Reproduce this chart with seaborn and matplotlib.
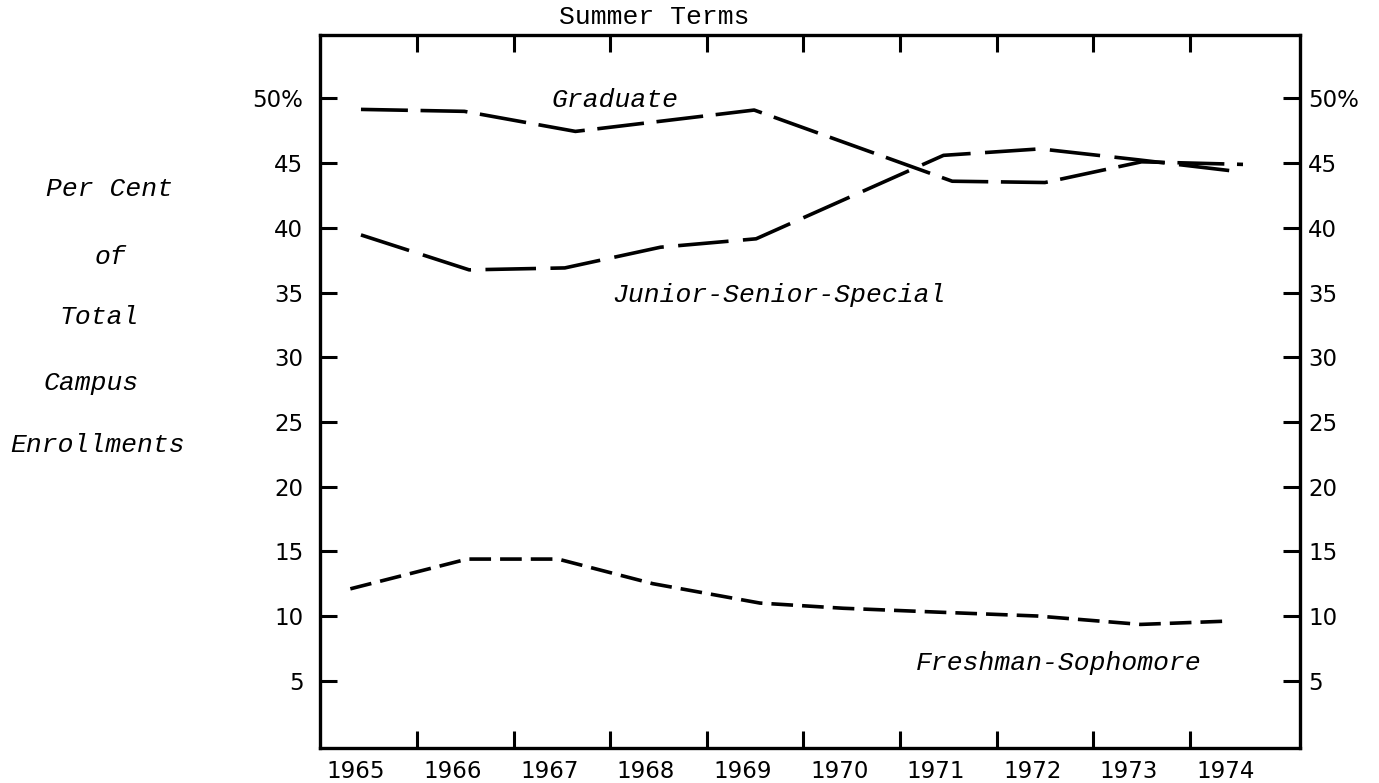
import pandas as pd
import matplotlib
matplotlib.use('Agg')
import matplotlib.pyplot as plt
import seaborn as sns

# Years (categories) and series.
# x positions are in "year slot" units: 0 = 1965 ... 9 = 1974
years = ['1965', '1966', '1967', '1968', '1969', '1970', '1971', '1972', '1973', '1974']

grad_x = [-0.08, 0.99, 2.14, 3.99, 6.04, 7.0, 8.0, 9.05]
grad_y = [49.15, 49.0, 47.45, 49.1, 43.6, 43.5, 45.1, 44.9]

jss_x = [-0.08, 1.04, 2.03, 3.02, 4.01, 5.95, 6.95, 7.97, 9.05]
jss_y = [39.45, 36.75, 36.9, 38.5, 39.15, 45.6, 46.1, 45.25, 44.3]

fresh_x = [-0.19, 1.02, 1.96, 2.94, 4.05, 4.91, 5.89, 6.92, 7.99, 8.87]
fresh_y = [12.1, 14.4, 14.4, 12.5, 11.0, 10.6, 10.3, 10.0, 9.35, 9.6]

y_ticks = [5, 10, 15, 20, 25, 30, 35, 40, 45, 50]
y_labels = ['5', '10', '15', '20', '25', '30', '35', '40', '45', '50%']

ylabel_lines = ['Per Cent', 'of', 'Total', 'Campus', 'Enrollments']

sns.set_style('white')
plt.rcParams['font.family'] = ['DejaVu Sans']

W, H = 1379, 783
fig = plt.figure(figsize=(W / 100, H / 100), dpi=100)
ax = fig.add_axes([320 / W, 1 - 748 / H, 980 / W, 713 / H])

# draw the three dashed series
df_g = pd.DataFrame({'x': grad_x, 'y': grad_y})
df_j = pd.DataFrame({'x': jss_x, 'y': jss_y})
df_f = pd.DataFrame({'x': fresh_x, 'y': fresh_y})
sns.lineplot(data=df_g, x='x', y='y', ax=ax, color='black', lw=2.6,
             estimator=None, linestyle=(0, (13, 3.5)))
sns.lineplot(data=df_j, x='x', y='y', ax=ax, color='black', lw=2.6,
             estimator=None, linestyle=(0, (14, 4)))
sns.lineplot(data=df_f, x='x', y='y', ax=ax, color='black', lw=2.6,
             estimator=None, linestyle=(0, (6, 2.5)))

ax.set_xlim(-0.504, 9.64)
ax.set_ylim(-0.2, 54.9)
ax.set_xlabel('')
ax.set_ylabel('')

for sp in ax.spines.values():
    sp.set_visible(True)
    sp.set_color('black')
    sp.set_linewidth(2.4)

# x: tick marks between years, year labels in the slots
ax.set_xticks([i + 0.5 for i in range(9)])
ax.set_xticklabels([])
ax.set_xticks([i - 0.13 for i in range(len(years))], minor=True)
ax.set_xticklabels(years, minor=True)
ax.tick_params(axis='x', which='major', direction='in', length=12, width=2.2,
               top=True, bottom=True, color='black')
ax.tick_params(axis='x', which='minor', length=0, labelsize=16.5, pad=9,
               labelcolor='black')

# y: ticks on both sides, labels both sides
ax.set_yticks(y_ticks)
ax.set_yticklabels(y_labels)
ax.tick_params(axis='y', direction='in', length=12, width=2.2, left=True,
               labelsize=16.5, pad=12, color='black', labelcolor='black')
ax2 = ax.twinx()
ax2.set_ylim(ax.get_ylim())
ax2.set_yticks(y_ticks)
ax2.set_yticklabels(y_labels)
ax2.tick_params(axis='y', direction='in', length=12, width=2.2, right=True,
                labelsize=16.5, pad=6, color='black', labelcolor='black')
for sp in ax2.spines.values():
    sp.set_visible(False)
ax.grid(False)
ax2.grid(False)

# series labels
lab_font = dict(family='Liberation Mono', style='italic', size=19, color='black')
ax.text(2.55, 49.9, 'Graduate', ha='center', va='center', **lab_font)
ax.text(4.25, 34.8, 'Junior-Senior-Special', ha='center', va='center', **lab_font)
ax.text(7.14, 6.4, 'Freshman-Sophomore', ha='center', va='center', **lab_font)

# title
fig.text(654 / W, 1 - 17 / H, 'Summer Terms', ha='center', va='center',
         family='Liberation Mono', size=19, color='black')

# stacked y-axis caption on the left
ylab_pos = [(110, 189), (110, 257), (99, 317), (91, 383), (98, 445)]
for txt, (px, py) in zip(ylabel_lines, ylab_pos):
    fig.text(px / W, 1 - py / H, txt, ha='center', va='center', **lab_font)

fig.savefig('out.png', dpi=100, facecolor='white')
